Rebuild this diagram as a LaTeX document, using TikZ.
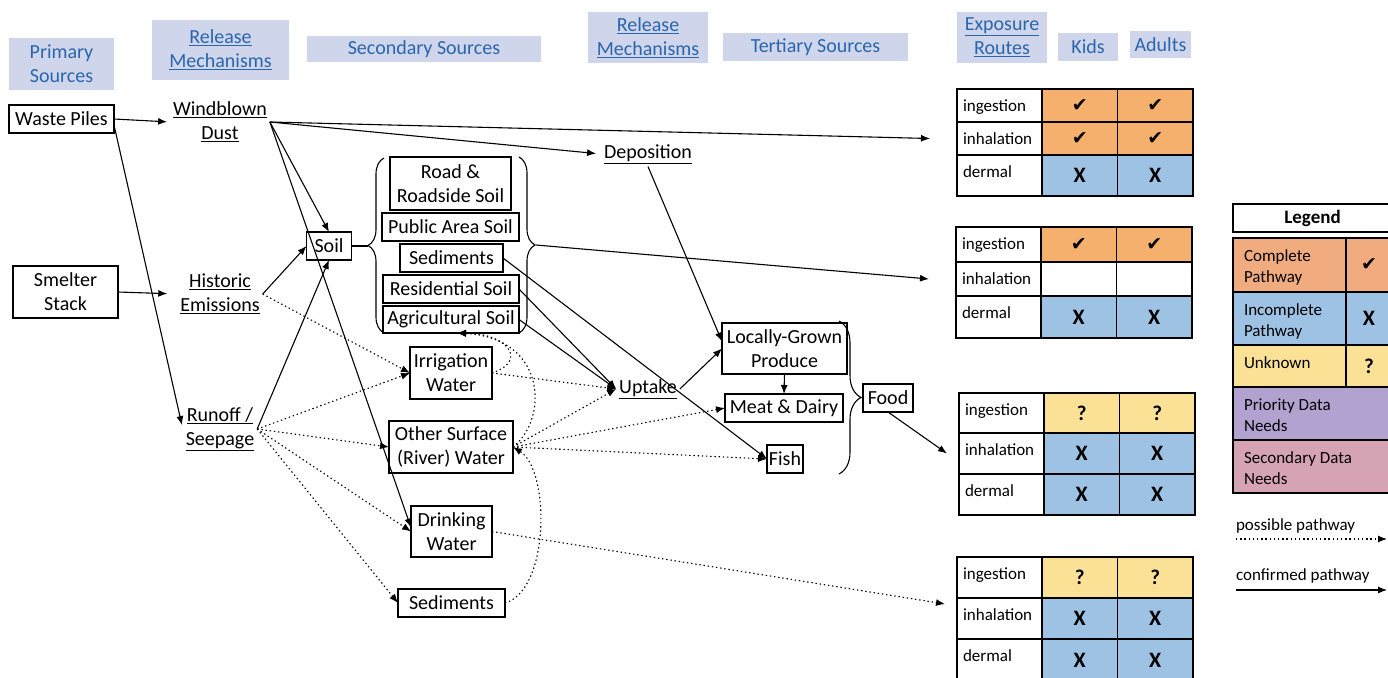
\documentclass[tikz,border=0pt]{standalone}
\usepackage{fontspec}
\setmainfont{Carlito}
\newfontfamily\checkfont{DejaVu Sans}
\usetikzlibrary{arrows.meta,decorations.pathreplacing}
\definecolor{hdrfill}{RGB}{207,213,234}
\definecolor{hdrtext}{RGB}{42,102,172}
\definecolor{cellorange}{RGB}{244,176,108}
\definecolor{cellblue}{RGB}{157,194,228}
\definecolor{cellyellow}{RGB}{250,225,150}
\definecolor{legorange}{RGB}{240,172,126}
\definecolor{legpurple}{RGB}{178,162,208}
\definecolor{legpink}{RGB}{214,163,181}
\newcommand{\cmark}{{\checkfont\fontsize{19}{22}\selectfont ✔}}
\newcommand{\xmark}{{\fontsize{22}{26}\selectfont\bfseries X}}
\newcommand{\qmark}{{\fontsize{21}{26}\selectfont\bfseries ?}}

\begin{document}
\begin{tikzpicture}[x=1pt, y=-1pt,
  every node/.style={font=\fontsize{20}{24}\selectfont, inner sep=0pt, outer sep=0pt},
  hdr/.style={fill=hdrfill, text=hdrtext, align=center},
  box/.style={draw, line width=1.1pt, fill=white, align=center},
  mech/.style={align=center, inner sep=3pt},
  conf/.style={-{Latex[length=9pt,width=7pt]}, line width=1.1pt},
  poss/.style={conf, dash pattern=on 1.4pt off 2.8pt},
  rowlab/.style={draw, line width=1.1pt, fill=white, minimum width=85},
  rowtxt/.style={anchor=base west, font=\fontsize{17}{21}\selectfont, xshift=6pt, yshift=-22pt},
  markcell/.style={draw, line width=1.1pt, minimum width=75.5},
  legcell/.style={draw, line width=1.1pt},
  legtxt/.style={anchor=north west, align=left, font=\fontsize{17}{21}\selectfont, xshift=11pt, yshift=-11.5pt},
  brc/.style={decorate, decoration={brace, amplitude=#1}, line width=1.1pt}]
\useasboundingbox (0,0) rectangle (1388,677);

% column headers
\node[hdr, minimum width=105, minimum height=52] (hprim) at (61.5,64) {Primary\\Sources};
\node[hdr, minimum width=137, minimum height=60] (hrel) at (220.5,50) {\underline{Release}\\\underline{Mechanisms}};
\node[hdr, minimum width=234, minimum height=26] (hsec) at (424,49) {Secondary Sources};
\node[hdr, minimum width=120, minimum height=51] (hrel2) at (648,37.5) {\underline{Release}\\\underline{Mechanisms}};
\node[hdr, minimum width=185, minimum height=28] (hter) at (815.5,47) {Tertiary Sources};
\node[hdr, minimum width=90, minimum height=51] (hexp) at (1002,37.5) {\underline{Exposure}\\\underline{Routes}};
\node[hdr, minimum width=60, minimum height=28] (hkid) at (1088,47) {Kids};
\node[hdr, minimum width=61, minimum height=27] (hadu) at (1160.5,44.5) {Adults};

% sources and mechanisms
\node[box, minimum width=105, minimum height=28] (waste) at (61.5,119) {Waste Piles};
\node[box, minimum width=105, minimum height=52] (smelter) at (65.5,292) {Smelter\\Stack};
\node[mech] (wind) at (220,122) {\underline{Windblown}\\\underline{Dust}};
\node[mech] (hist) at (220,294) {\underline{Historic}\\\underline{Emissions}};
\node[mech] (runoff) at (220,429) {\underline{Runoff /}\\\underline{Seepage}};

% secondary sources
\node[box, minimum width=45, minimum height=28] (soil) at (329,246) {Soil};
\node[box, minimum width=121, minimum height=53] (road) at (450.5,183.5) {Road \&\\Roadside Soil};
\node[box, minimum width=137, minimum height=28] (public) at (450.5,227) {Public Area Soil};
\node[box, minimum width=103, minimum height=28] (sedup) at (451.5,258) {Sediments};
\node[box, minimum width=136, minimum height=28] (resid) at (451,289) {Residential Soil};
\node[box, minimum width=136, minimum height=27] (agri) at (451,319.5) {Agricultural Soil};
\node[box, minimum width=82, minimum height=52] (irrig) at (451,373) {Irrigation\\Water};
\node[box, minimum width=124, minimum height=52] (surf) at (451,447) {Other Surface\\(River) Water};
\node[box, minimum width=81, minimum height=51] (drink) at (451.5,531.5) {Drinking\\Water};
\node[box, minimum width=107, minimum height=28] (sedlow) at (451.5,603) {Sediments};

% tertiary sources
\node[mech] (depo) at (648,154) {\underline{Deposition}};
\node[mech] (uptake) at (648,389) {\underline{Uptake}};
\node[box, minimum width=125, minimum height=51] (produce) at (784.5,348.5) {Locally-Grown\\Produce};
\node[box, minimum width=118, minimum height=28] (meat) at (784,408) {Meat \& Dairy};
\node[box, minimum width=36, minimum height=28] (fish) at (785,459) {Fish};
\node[box, minimum width=50, minimum height=28] (food) at (888,398) {Food};

% braces
\draw[brc=16] (384,333) -- (384,158);
\coordinate (secl) at (368,246);
\draw[line width=1.1pt] (soil.east) -- (secl);
\draw[brc=16] (519,157) -- (519,333);
\coordinate (secr) at (536,245);
\draw[brc=22] (839,321) -- (839,474);

% exposure route tables
\foreach \r/\ya/\yb/\lab/\col/\mk in {a/89/122/ingestion/cellorange/\cmark, b/122/155/inhalation/cellorange/\cmark, c/155/196/dermal/cellblue/\xmark}{
  \node[rowlab, minimum height=\yb-\ya] (t1\r) at (999.5,{(\ya+\yb)/2}) {};
  \node[rowtxt] (t1\r l) at (t1\r.north west) {\lab};
  \node[markcell, fill=\col, minimum height=\yb-\ya] (t1\r k) at (1079.75,{(\ya+\yb)/2}) {\mk};
  \node[markcell, fill=\col, minimum height=\yb-\ya] (t1\r m) at (1155.25,{(\ya+\yb)/2}) {\mk};
}
\foreach \r/\ya/\yb/\lab/\col/\mk in {a/227/262/ingestion/cellorange/\cmark, b/262/296/inhalation/white/{}, c/296/338/dermal/cellblue/\xmark}{
  \node[rowlab, minimum height=\yb-\ya] (t2\r) at (998.5,{(\ya+\yb)/2}) {};
  \node[rowtxt] (t2\r l) at (t2\r.north west) {\lab};
  \node[markcell, fill=\col, minimum height=\yb-\ya] (t2\r k) at (1078.75,{(\ya+\yb)/2}) {\mk};
  \node[markcell, fill=\col, minimum height=\yb-\ya] (t2\r m) at (1154.25,{(\ya+\yb)/2}) {\mk};
}
\foreach \r/\ya/\yb/\lab/\col/\mk in {a/393/433/ingestion/cellyellow/\qmark, b/433/474/inhalation/cellblue/\xmark, c/474/515/dermal/cellblue/\xmark}{
  \node[rowlab, minimum height=\yb-\ya] (t3\r) at (1001.5,{(\ya+\yb)/2}) {};
  \node[rowtxt] (t3\r l) at (t3\r.north west) {\lab};
  \node[markcell, fill=\col, minimum height=\yb-\ya] (t3\r k) at (1081.75,{(\ya+\yb)/2}) {\mk};
  \node[markcell, fill=\col, minimum height=\yb-\ya] (t3\r m) at (1157.25,{(\ya+\yb)/2}) {\mk};
}
\foreach \r/\ya/\yb/\lab/\col/\mk in {a/557/598/ingestion/cellyellow/\qmark, b/598/639/inhalation/cellblue/\xmark, c/639/681/dermal/cellblue/\xmark}{
  \node[rowlab, minimum height=\yb-\ya] (t4\r) at (999.5,{(\ya+\yb)/2}) {};
  \node[rowtxt] (t4\r l) at (t4\r.north west) {\lab};
  \node[markcell, fill=\col, minimum height=\yb-\ya] (t4\r k) at (1079.75,{(\ya+\yb)/2}) {\mk};
  \node[markcell, fill=\col, minimum height=\yb-\ya] (t4\r m) at (1155.25,{(\ya+\yb)/2}) {\mk};
}

% confirmed pathways
\draw[conf, shorten >=3pt] (waste.east) -- (wind.west);
\draw[conf, shorten >=4pt] ([yshift=-6pt]waste.east) -- (runoff.west);
\draw[conf, shorten >=10pt] (smelter.east) -- (hist.west);
\draw[conf] (wind.east) -- (soil.north);
\draw[conf] (wind.east) -- ([yshift=4pt]drink.west);
\draw[conf, shorten >=5pt] (wind.east) -- (depo.west);
\draw[conf] (wind.east) -- ([xshift=-27pt]t1b.west);
\draw[conf] (hist.east) -- (soil.west);
\draw[conf] (runoff.east) -- (soil.south);
\draw[conf] (secr) -- ([xshift=-27pt]t2b.west);
\draw[conf] (depo.south) -- ([yshift=7pt]produce.west);
\draw[conf] (sedup.east) -- (fish.west);
\draw[conf] (resid.east) -- (uptake.west);
\draw[conf] (agri.east) -- (uptake.west);
\draw[conf] (uptake.east) -- (produce.west);
\draw[conf] (produce.south) -- (meat.north);
\draw[conf] (food.south) -- ([xshift=-12pt]t3b.west);

% possible pathways
\draw[poss] (hist.east) -- (irrig.west);
\draw[poss] (runoff.east) -- (irrig.west);
\draw[poss] (runoff.east) -- (surf.west);
\draw[poss] (runoff.east) -- (drink.west);
\draw[poss] (runoff.east) -- (sedlow.west);
\draw[poss] (irrig.east) -- (uptake.west);
\draw[poss] (surf.east) -- (uptake.west);
\draw[poss] (surf.east) -- (meat.west);
\draw[poss] (surf.east) -- (fish.west);
\draw[poss] (irrig.east) .. controls (530,360) and (505,333) .. ([xshift=6pt]agri.south);
\draw[poss] (surf.east) .. controls (548,420) and (548,338) .. ([xshift=6pt]agri.south);
\draw[poss] (sedlow.east) .. controls (550,590) and (550,470) .. (surf.east);
\draw[poss] (drink.east) -- ([xshift=-12pt,yshift=-6pt]t4b.north west);

% legend
\node[legcell, fill=white, minimum width=159, minimum height=28, font=\fontsize{19}{23}\selectfont\bfseries] (legtitle) at (1312.5,218) {Legend};
\foreach \r/\ya/\yb/\col/\txt/\mk in {a/238/292/legorange/{Complete\\Pathway}/\cmark, b/292/345/cellblue/{Incomplete\\Pathway}/\xmark, c/345/387/cellyellow/Unknown/\qmark}{
  \node[legcell, fill=\col, minimum width=113, minimum height=\yb-\ya] (leg\r) at (1289.5,{(\ya+\yb)/2}) {};
  \node[legtxt] (leg\r l) at (leg\r.north west) {\txt};
  \node[legcell, fill=\col, minimum width=46, minimum height=\yb-\ya] (leg\r k) at (1369,{(\ya+\yb)/2}) {\mk};
}
\foreach \r/\ya/\yb/\col/\txt in {d/387/440/legpurple/{Priority Data\\Needs}, e/440/493/legpink/{Secondary Data\\Needs}}{
  \node[legcell, fill=\col, minimum width=159, minimum height=\yb-\ya] (leg\r) at (1312.5,{(\ya+\yb)/2}) {};
  \node[legtxt] (leg\r l) at (leg\r.north west) {\txt};
}
\node[anchor=base west, font=\fontsize{17}{21}\selectfont] (posstxt) at (1236,530) {possible pathway};
\coordinate (possa) at (1236,539);
\coordinate (possb) at (1387,539);
\draw[poss] (possa) -- (possb);
\node[anchor=base west, font=\fontsize{17}{21}\selectfont] (conftxt) at (1236,580) {confirmed pathway};
\coordinate (confa) at (1236,590);
\coordinate (confb) at (1387,590);
\draw[conf] (confa) -- (confb);
\end{tikzpicture}
\end{document}
